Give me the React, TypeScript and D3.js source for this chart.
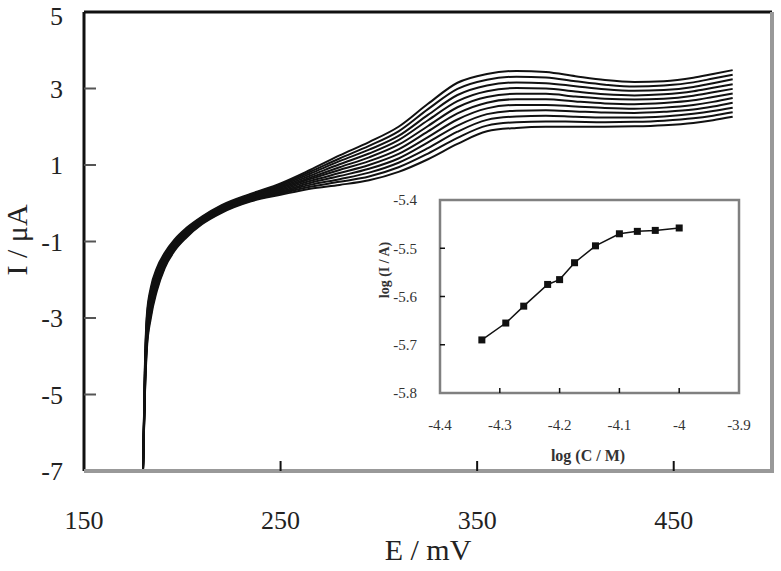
import { scaleLinear, line, curveMonotoneX, curveLinear } from 'd3';

// potential grid (mV), shared by every scan
const potentials = [180, 181, 182, 184, 187, 191, 196, 202, 210, 220, 235, 250, 265, 280, 295, 310, 325, 340, 355, 370, 385, 400, 415, 430, 445, 460, 470, 480];

// current (uA) of each scan, lowest concentration first
const scan1 = [-7, -5.0, -3.8, -3.0, -2.3, -1.7, -1.25, -0.9, -0.55, -0.25, 0.05, 0.22, 0.38, 0.48, 0.6, 0.82, 1.15, 1.55, 1.88, 1.97, 2.0, 2.0, 2.0, 2.01, 2.04, 2.1, 2.17, 2.26];
const scan2 = [-7, -4.92, -3.71, -2.92, -2.24, -1.66, -1.22, -0.88, -0.53, -0.23, 0.07, 0.25, 0.43, 0.56, 0.7, 0.94, 1.3, 1.71, 2.03, 2.12, 2.14, 2.13, 2.12, 2.13, 2.16, 2.22, 2.29, 2.38];
const scan3 = [-7, -4.84, -3.62, -2.84, -2.18, -1.62, -1.19, -0.85, -0.51, -0.21, 0.09, 0.28, 0.48, 0.63, 0.8, 1.06, 1.44, 1.87, 2.18, 2.27, 2.29, 2.26, 2.24, 2.24, 2.27, 2.34, 2.41, 2.5];
const scan4 = [-7, -4.76, -3.53, -2.76, -2.12, -1.58, -1.16, -0.83, -0.49, -0.19, 0.11, 0.31, 0.53, 0.71, 0.9, 1.17, 1.59, 2.03, 2.33, 2.42, 2.43, 2.4, 2.37, 2.36, 2.39, 2.45, 2.53, 2.63];
const scan5 = [-7, -4.68, -3.44, -2.68, -2.06, -1.54, -1.13, -0.8, -0.47, -0.17, 0.13, 0.34, 0.58, 0.79, 1.0, 1.29, 1.73, 2.19, 2.48, 2.57, 2.57, 2.53, 2.49, 2.47, 2.5, 2.57, 2.65, 2.75];
const scan6 = [-7, -4.6, -3.35, -2.6, -2.0, -1.5, -1.1, -0.78, -0.45, -0.15, 0.15, 0.37, 0.63, 0.87, 1.1, 1.41, 1.88, 2.35, 2.63, 2.72, 2.72, 2.66, 2.61, 2.59, 2.62, 2.69, 2.78, 2.87];
const scan7 = [-7, -4.52, -3.26, -2.52, -1.94, -1.46, -1.07, -0.75, -0.43, -0.13, 0.17, 0.4, 0.67, 0.94, 1.2, 1.53, 2.02, 2.51, 2.78, 2.86, 2.86, 2.79, 2.73, 2.71, 2.73, 2.81, 2.9, 2.99];
const scan8 = [-7, -4.44, -3.17, -2.44, -1.88, -1.42, -1.04, -0.73, -0.41, -0.11, 0.19, 0.43, 0.72, 1.02, 1.3, 1.65, 2.17, 2.67, 2.93, 3.01, 3.0, 2.92, 2.85, 2.82, 2.85, 2.93, 3.02, 3.11];
const scan9 = [-7, -4.36, -3.08, -2.36, -1.82, -1.38, -1.01, -0.7, -0.39, -0.09, 0.21, 0.46, 0.77, 1.1, 1.4, 1.76, 2.31, 2.83, 3.08, 3.16, 3.14, 3.06, 2.98, 2.94, 2.96, 3.04, 3.14, 3.24];
const scan10 = [-7, -4.28, -2.99, -2.28, -1.76, -1.34, -0.98, -0.68, -0.37, -0.07, 0.23, 0.49, 0.82, 1.17, 1.5, 1.88, 2.46, 2.99, 3.23, 3.31, 3.29, 3.19, 3.1, 3.05, 3.08, 3.16, 3.26, 3.36];
const scan11 = [-7, -4.2, -2.9, -2.2, -1.7, -1.3, -0.95, -0.65, -0.35, -0.05, 0.25, 0.52, 0.87, 1.25, 1.6, 2.0, 2.6, 3.15, 3.38, 3.46, 3.43, 3.32, 3.22, 3.17, 3.19, 3.28, 3.38, 3.48];
const scans = [scan1, scan2, scan3, scan4, scan5, scan6, scan7, scan8, scan9, scan10, scan11];

const xTicks = [150, 250, 350, 450];
const yTicks = [5, 3, 1, -1, -3, -5, -7];

// inset: calibration plot
const logC = [-4.33, -4.29, -4.26, -4.22, -4.2, -4.175, -4.14, -4.1, -4.07, -4.04, -4.0];
const logI = [-5.69, -5.655, -5.62, -5.575, -5.565, -5.53, -5.495, -5.47, -5.465, -5.463, -5.458];
const insetXTicks = [-4.4, -4.3, -4.2, -4.1, -4, -3.9];
const insetYTicks = [-5.4, -5.5, -5.6, -5.7, -5.8];

const serif = '"Liberation Serif", "Times New Roman", serif';

export default function App() {
  const left = 84, right = 772, top = 12, bottom = 471;
  const x = scaleLinear().domain([150, 500]).range([left, right]);
  const y = scaleLinear().domain([-7, 5]).range([bottom, top]);

  const curve = line<number>()
    .x((_, i) => x(potentials[i]))
    .y((d) => y(d))
    .curve(curveMonotoneX);

  // inset frame
  const iL = 440, iR = 739, iT = 200, iB = 393;
  const ix = scaleLinear().domain([-4.4, -3.9]).range([iL, iR]);
  const iy = scaleLinear().domain([-5.8, -5.4]).range([iB, iT]);
  const calib = line<number>()
    .x((d) => ix(d))
    .y((_, i) => iy(logI[i]))
    .curve(curveLinear);

  return (
    <svg width={781} height={571} style={{ position: 'absolute', left: 0, top: 0, background: '#fff' }}>
      <rect width={781} height={571} fill="#fff" />

      {/* scans */}
      <g fill="none" stroke="#111" strokeWidth={2}>
        {scans.map((s, k) => (
          <path key={k} d={curve(s) || ''} />
        ))}
      </g>

      {/* frame */}
      <line x1={left} x2={left} y1={top} y2={bottom} stroke="#111" strokeWidth={3} />
      <line x1={left} x2={right} y1={top} y2={top} stroke="#111" strokeWidth={3} />
      <line x1={left} x2={right + 2} y1={bottom} y2={bottom} stroke="#999" strokeWidth={4} />
      <line x1={right} x2={right} y1={top} y2={bottom} stroke="#999" strokeWidth={4} />

      {yTicks.filter((t) => t !== 5 && t !== -7).map((t) => (
        <line key={t} x1={left} x2={left + 12} y1={y(t)} y2={y(t)} stroke="#555" strokeWidth={2} />
      ))}
      {xTicks.filter((t) => t !== 150).map((t) => (
        <line key={t} x1={x(t)} x2={x(t)} y1={bottom} y2={bottom - 10} stroke="#111" strokeWidth={2} />
      ))}

      <g fontFamily={serif} fontSize={26} fill="#222">
        {yTicks.map((t) => (
          <text key={t} x={63} y={Math.max(y(t), 16)} dy="0.35em" textAnchor="end">{t}</text>
        ))}
        {xTicks.map((t) => (
          <text key={t} x={x(t)} y={529} textAnchor="middle">{t}</text>
        ))}
      </g>
      <text x={428} y={560} textAnchor="middle" fontFamily={serif} fontSize={30} fill="#222">E / mV</text>
      <text transform="translate(27,240) rotate(-90)" textAnchor="middle" fontFamily={serif} fontSize={30} fill="#222">I / μA</text>

      {/* inset */}
      <rect x={iL} y={iT} width={iR - iL} height={iB - iT} fill="#fff" stroke="#808080" strokeWidth={2.5} />
      {insetYTicks.filter((t) => t !== -5.4 && t !== -5.8).map((t) => (
        <line key={t} x1={iL} x2={iL + 5} y1={iy(t)} y2={iy(t)} stroke="#111" strokeWidth={1.5} />
      ))}
      {insetXTicks.filter((t) => t !== -4.4 && t !== -3.9).map((t) => (
        <line key={t} x1={ix(t)} x2={ix(t)} y1={iB} y2={iB - 5} stroke="#111" strokeWidth={1.5} />
      ))}
      <path d={calib(logC) || ''} fill="none" stroke="#111" strokeWidth={1.5} />
      {logC.map((c, i) => (
        <rect key={i} x={ix(c) - 3.5} y={iy(logI[i]) - 3.5} width={7} height={7} fill="#111" />
      ))}
      <g fontFamily={serif} fontSize={15} fill="#333">
        {insetYTicks.map((t) => (
          <text key={t} x={417} y={iy(t)} dy="0.35em" textAnchor="end">{t}</text>
        ))}
        {insetXTicks.map((t) => (
          <text key={t} x={ix(t)} y={430} textAnchor="middle">{t}</text>
        ))}
      </g>
      <text x={588} y={461} textAnchor="middle" fontFamily={serif} fontSize={16} fontWeight="bold" fill="#333">log (C / M)</text>
      <text transform="translate(389,270) rotate(-90)" textAnchor="middle" fontFamily={serif} fontSize={14} fontWeight="bold" fill="#333">log (I / A)</text>
    </svg>
  );
}
